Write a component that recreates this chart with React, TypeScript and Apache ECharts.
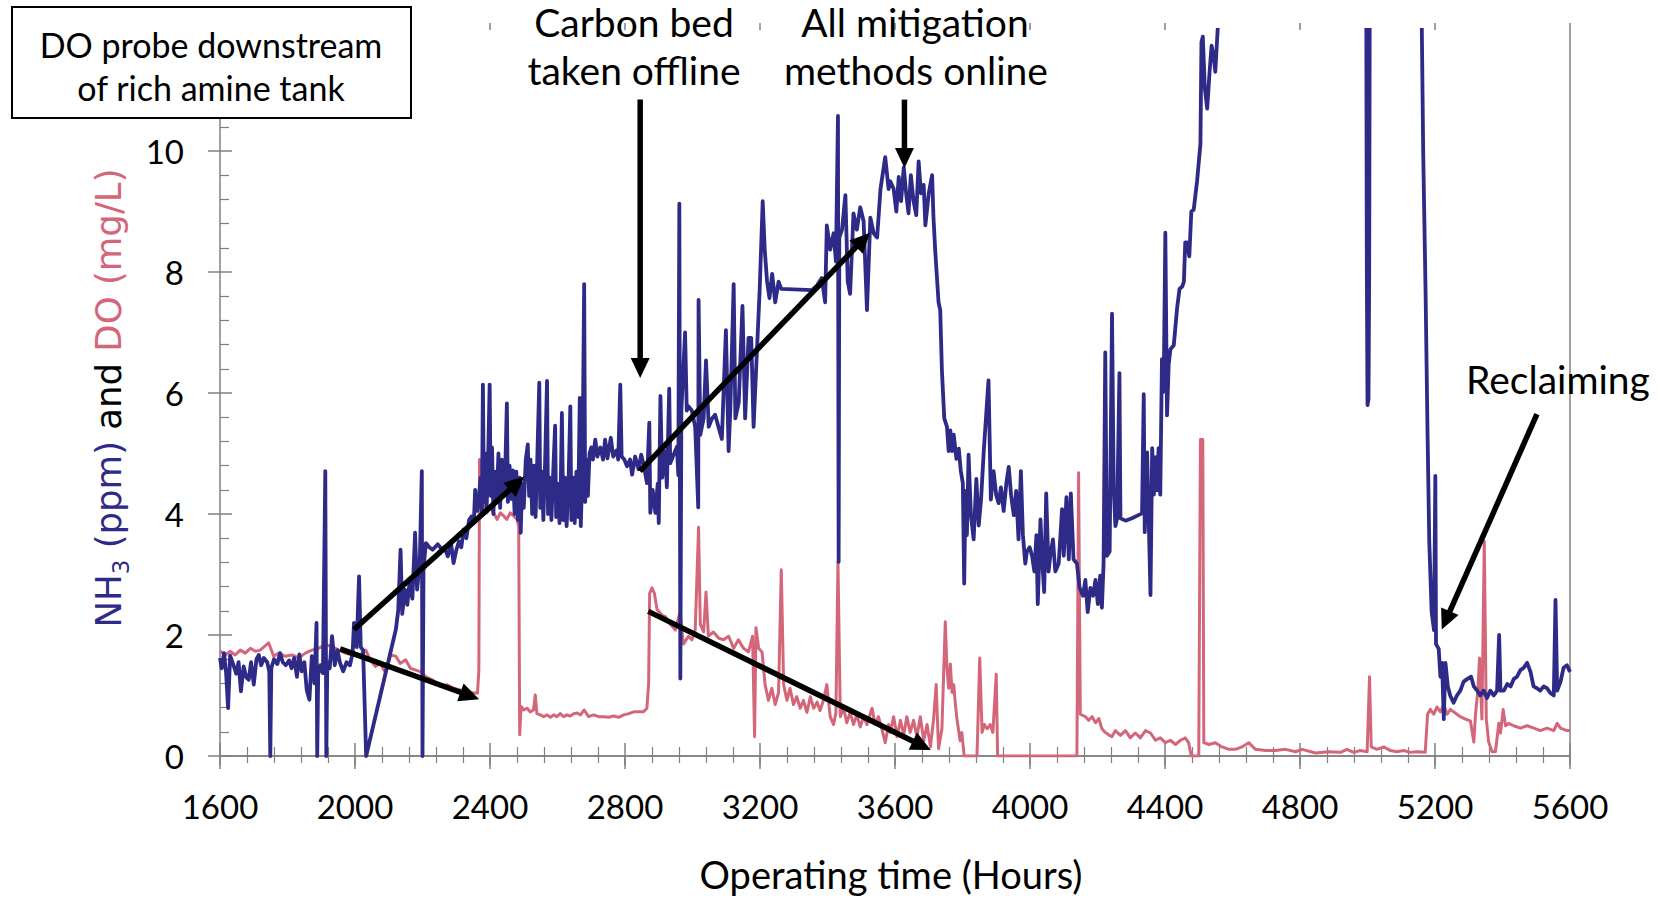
import React, { useEffect, useRef } from "react";
import * as echarts from "echarts";

// ---------- data (hours, value) ----------
const xRange = [1600, 5600];
const xStep = 400;
const yRange = [0, 12];
const yStep = 2;

const nh3Ppm: [number, number][] = [
  [1600,1.62],[1605,1.45],[1612,1.70],[1618,1.38],[1624,0.79],[1630,1.66],[1640,1.50],[1648,1.36],[1655,1.55],[1662,1.07],
  [1670,1.48],[1678,1.30],[1685,1.26],[1692,1.55],[1700,1.18],[1708,1.60],[1715,1.67],[1722,1.50],[1730,1.62],[1740,1.55],
  [1746,1.40],[1749,0],[1752,1.45],[1760,1.60],[1770,1.52],[1778,1.70],[1786,1.55],[1795,1.50],[1805,1.58],[1812,1.45],
  [1820,1.62],[1828,1.31],[1835,1.68],[1842,1.40],[1850,1.55],[1857,1.09],[1865,0.93],[1872,1.65],[1880,1.20],[1886,2.20],
  [1888,0],[1891,1.35],[1898,1.50],[1905,1.37],[1912,4.71],[1915,0],[1918,1.55],[1925,1.45],[1932,1.98],[1940,1.50],
  [1948,1.75],[1955,1.55],[1965,1.40],[1975,1.55],[1985,1.50],[1993,1.70],[1997,2.20],[2005,1.80],[2012,2.97],[2017,1.80],
  [2024,1.75],[2033,0],[2121,2.09],[2128,2.40],[2135,3.41],[2140,2.35],[2148,2.75],[2155,2.50],[2162,2.90],[2170,2.60],
  [2178,3.69],[2184,2.75],[2192,3.20],[2198,4.71],[2200,0],[2203,3.10],[2210,3.52],[2220,3.45],[2230,3.41],[2245,3.50],
  [2260,3.40],[2265,3.45],[2275,3.30],[2285,3.50],[2292,3.19],[2300,3.40],[2308,3.55],[2315,3.45],[2322,3.74],[2330,3.60],
  [2338,3.90],[2345,3.96],[2352,3.85],[2356,4.40],[2362,4.05],[2366,4.18],[2372,4.60],[2376,4.00],[2379,6.14],[2382,4.20],
  [2386,5.00],[2390,4.10],[2394,4.80],[2399,6.14],[2402,4.30],[2406,5.10],[2410,4.00],[2415,4.70],[2420,4.20],[2425,5.00],
  [2430,4.10],[2435,4.90],[2440,4.30],[2445,4.70],[2450,5.83],[2453,4.20],[2458,4.80],[2463,4.25],[2468,4.72],[2473,4.00],
  [2478,4.70],[2483,3.90],[2488,4.60],[2491,3.69],[2495,4.50],[2500,4.10],[2506,4.90],[2512,5.15],[2516,4.30],[2520,4.90],
  [2525,4.00],[2530,4.80],[2535,3.95],[2540,4.90],[2546,6.17],[2549,4.10],[2554,4.70],[2558,3.90],[2563,4.80],[2569,6.20],
  [2572,4.00],[2577,4.60],[2582,3.90],[2588,4.80],[2593,5.46],[2596,3.95],[2600,4.50],[2606,3.85],[2610,4.60],[2613,5.67],
  [2617,3.90],[2622,4.60],[2627,3.80],[2633,4.60],[2638,5.78],[2641,3.90],[2646,4.60],[2651,3.85],[2656,4.70],[2661,3.95],
  [2666,5.92],[2669,3.80],[2674,4.80],[2679,7.80],[2682,4.20],[2686,4.90],[2690,4.30],[2695,5.00],[2700,5.10],[2705,4.90],
  [2712,5.23],[2718,4.95],[2727,5.10],[2735,4.90],[2741,5.23],[2748,4.92],[2758,5.26],[2765,4.95],[2775,5.05],[2780,4.90],
  [2786,6.14],[2790,4.95],[2798,4.90],[2806,4.79],[2815,4.90],[2821,4.65],[2830,4.95],[2840,4.74],[2848,4.98],[2856,4.80],
  [2865,4.51],[2872,5.51],[2875,4.02],[2882,4.40],[2890,4.02],[2897,4.50],[2900,3.85],[2905,5.95],[2910,4.60],[2919,5.04],
  [2924,4.44],[2931,6.07],[2934,4.84],[2944,4.98],[2954,5.11],[2958,4.64],[2961,9.13],[2964,1.28],[2967,5.71],[2978,7.00],
  [2983,5.71],[2988,5.78],[2998,5.71],[3008,5.44],[3017,4.11],[3018,7.54],[3023,5.31],[3033,5.58],[3040,6.54],[3048,5.44],
  [3058,5.58],[3067,5.64],[3077,5.44],[3087,5.24],[3099,7.04],[3107,5.04],[3112,5.71],[3122,7.80],[3127,5.58],[3137,5.84],
  [3148,7.44],[3156,5.58],[3166,6.91],[3174,6.91],[3181,5.44],[3191,6.71],[3199,7.70],[3208,9.17],[3214,8.37],[3221,7.84],
  [3228,7.57],[3236,7.97],[3245,7.50],[3255,7.84],[3263,7.72],[3354,7.70],[3369,7.78],[3383,7.90],[3393,7.50],[3398,8.77],
  [3408,8.37],[3418,8.64],[3425,8.17],[3431,10.58],[3433,3.21],[3435,8.57],[3443,8.70],[3453,9.27],[3460,7.84],[3467,7.64],
  [3477,8.97],[3487,8.70],[3497,9.07],[3507,8.84],[3517,7.37],[3527,8.90],[3537,8.64],[3547,8.57],[3557,9.37],[3571,9.90],
  [3581,9.37],[3586,9.50],[3596,9.37],[3604,9.00],[3611,9.57],[3618,9.17],[3626,9.73],[3633,9.30],[3640,8.97],[3647,9.60],
  [3655,9.17],[3663,8.94],[3670,9.83],[3677,9.30],[3685,9.44],[3690,8.77],[3700,9.30],[3710,9.60],[3714,8.90],[3719,8.37],
  [3729,7.50],[3734,7.37],[3739,6.37],[3746,5.58],[3754,5.44],[3759,5.04],[3764,5.38],[3769,5.04],[3774,5.31],[3782,4.91],
  [3789,5.08],[3795,4.71],[3801,4.51],[3805,2.85],[3809,4.38],[3813,3.65],[3818,4.98],[3825,3.98],[3833,3.58],[3841,4.58],
  [3848,3.81],[3855,4.24],[3863,5.04],[3877,6.21],[3884,4.24],[3892,4.71],[3900,4.31],[3907,4.18],[3914,4.44],[3922,4.05],
  [3930,4.51],[3937,4.78],[3944,4.31],[3952,3.98],[3959,4.38],[3966,3.58],[3973,4.71],[3979,3.65],[3986,3.18],[3991,3.38],
  [3999,3.45],[4006,3.31],[4013,3.05],[4019,3.65],[4023,2.51],[4031,3.91],[4036,3.25],[4042,2.71],[4048,4.34],[4055,3.05],
  [4060,3.31],[4068,3.58],[4075,3.05],[4085,3.18],[4095,4.08],[4100,3.31],[4108,4.28],[4115,3.25],[4121,4.34],[4129,3.25],
  [4139,3.18],[4147,2.78],[4157,2.65],[4164,2.91],[4171,2.38],[4179,2.78],[4187,2.65],[4194,2.91],[4201,2.51],[4208,2.98],
  [4213,2.45],[4218,3.18],[4223,6.67],[4228,3.31],[4236,3.38],[4243,7.31],[4248,4.44],[4253,3.80],[4258,3.93],[4265,6.33],
  [4268,3.93],[4283,3.89],[4302,3.93],[4332,4.01],[4337,5.98],[4340,3.70],[4347,5.02],[4352,3.86],[4357,2.66],[4362,5.09],
  [4367,4.32],[4372,4.94],[4377,4.39],[4381,5.09],[4386,4.32],[4391,6.56],[4396,6.02],[4401,8.65],[4406,5.63],[4411,6.48],
  [4416,6.72],[4426,6.79],[4436,7.41],[4443,7.72],[4451,7.76],[4456,7.84],[4460,8.49],[4465,8.49],[4472,8.26],[4478,9.00],
  [4485,9.03],[4495,9.50],[4505,10.12],[4508,11.80],[4512,11.89],[4518,11.04],[4525,10.70],[4532,11.30],[4538,11.74],[4544,11.58],
  [4549,11.31],[4557,12.10],[4565,13.50],[4996,13.50],[4998,8.00],[5000,5.80],[5003,5.90],[5005,8.00],[5007,13.50],[5158,13.50],
  [5161,12.00],[5165,10.00],[5168,9.00],[5172,7.70],[5175,6.50],[5178,5.30],[5183,3.55],[5190,2.39],[5197,2.08],[5201,4.63],
  [5203,1.85],[5211,1.77],[5216,1.31],[5221,1.54],[5226,0.61],[5231,1.54],[5238,1.15],[5245,1.00],[5255,0.88],[5265,1.00],
  [5275,1.08],[5285,1.23],[5295,1.27],[5307,1.31],[5315,1.15],[5325,1.08],[5334,1.00],[5344,1.08],[5354,0.96],[5364,1.08],
  [5374,1.00],[5384,1.08],[5390,2.00],[5394,1.08],[5404,1.08],[5414,1.19],[5424,1.15],[5433,1.27],[5443,1.31],[5453,1.42],
  [5463,1.46],[5473,1.54],[5483,1.39],[5492,1.15],[5502,1.12],[5512,1.08],[5522,1.15],[5532,1.12],[5542,1.04],[5552,1.00],
  [5557,2.58],[5562,1.08],[5572,1.23],[5581,1.46],[5591,1.50],[5600,1.39]
];

const doMgL: [number, number][] = [
  [1601,1.73],[1616,1.67],[1630,1.73],[1645,1.67],[1660,1.75],[1675,1.70],[1690,1.78],[1705,1.73],[1719,1.75],[1744,1.87],
  [1759,1.65],[1774,1.70],[1793,1.65],[1813,1.67],[1833,1.62],[1853,1.70],[1872,1.75],[1892,1.78],[1912,1.84],[1932,1.81],
  [1952,1.75],[1972,1.70],[1992,1.67],[2012,1.65],[2032,1.75],[2045,1.59],[2060,1.48],[2075,1.53],[2091,1.37],[2106,1.67],
  [2121,1.65],[2134,1.53],[2150,1.59],[2164,1.45],[2180,1.42],[2195,1.39],[2210,1.31],[2229,1.26],[2253,1.15],[2272,1.18],
  [2292,1.12],[2312,1.09],[2332,1.06],[2352,1.04],[2363,1.04],[2367,1.42],[2369,4.90],[2376,4.73],[2381,4.07],[2391,4.02],
  [2401,4.13],[2411,4.02],[2421,3.91],[2431,4.02],[2440,3.97],[2450,3.91],[2460,4.02],[2470,3.97],[2480,3.91],[2485,3.80],
  [2488,0.35],[2492,0.82],[2500,0.76],[2510,0.79],[2519,0.73],[2529,0.76],[2534,1.01],[2539,0.70],[2549,0.68],[2559,0.65],
  [2569,0.68],[2579,0.64],[2589,0.68],[2598,0.65],[2608,0.70],[2618,0.65],[2628,0.68],[2638,0.66],[2648,0.70],[2658,0.71],
  [2668,0.68],[2679,0.76],[2692,0.65],[2707,0.68],[2722,0.65],[2737,0.65],[2752,0.64],[2766,0.66],[2781,0.64],[2796,0.68],
  [2811,0.70],[2826,0.73],[2840,0.73],[2855,0.73],[2865,0.79],[2870,1.20],[2873,2.69],[2880,2.78],[2887,2.69],[2895,2.42],
  [2905,2.36],[2914,2.31],[2919,2.31],[2934,2.18],[2949,2.08],[2963,2.38],[2973,1.85],[2988,1.98],[2998,1.92],[3008,2.08],
  [3018,3.78],[3023,2.18],[3033,2.05],[3040,2.71],[3047,1.98],[3062,2.05],[3077,1.95],[3092,1.92],[3107,1.98],[3122,1.78],
  [3136,1.92],[3151,1.78],[3166,1.72],[3178,1.98],[3184,0.32],[3188,2.12],[3196,1.78],[3206,1.72],[3215,1.18],[3225,0.92],
  [3235,1.12],[3245,0.85],[3255,1.05],[3263,3.08],[3270,1.18],[3280,0.92],[3289,1.12],[3299,0.85],[3309,0.98],[3319,0.79],
  [3329,0.92],[3339,0.72],[3349,0.98],[3359,0.79],[3369,0.89],[3378,0.75],[3388,0.92],[3398,1.18],[3408,0.65],[3418,0.52],
  [3425,0.72],[3431,3.21],[3438,0.65],[3448,0.79],[3457,0.55],[3467,0.72],[3477,0.52],[3487,0.68],[3497,0.48],[3507,0.65],
  [3517,0.52],[3532,0.79],[3541,0.52],[3551,0.65],[3561,0.45],[3571,0.22],[3581,0.52],[3586,0.39],[3596,0.65],[3606,0.32],
  [3616,0.59],[3626,0.35],[3635,0.65],[3645,0.39],[3655,0.59],[3665,0.32],[3675,0.65],[3685,0.25],[3695,0.52],[3705,0.15],
  [3714,0.59],[3722,1.18],[3729,0.12],[3739,0.45],[3749,2.22],[3754,1.45],[3759,1.12],[3764,1.52],[3769,1.05],[3774,1.18],
  [3779,0.85],[3784,0.59],[3793,0.25],[3798,0.39],[3805,0],[3843,0],[3851,1.62],[3858,0.39],[3865,0.52],[3873,0.45],
  [3882,0.52],[3890,0.39],[3900,1.35],[3904,0],[4139,0],[4144,4.68],[4149,0.69],[4164,0.65],[4174,0.59],[4184,0.65],
  [4194,0.55],[4204,0.62],[4213,0.45],[4223,0.39],[4233,0.35],[4243,0.32],[4253,0.42],[4268,0.34],[4283,0.42],[4297,0.30],
  [4312,0.38],[4327,0.30],[4342,0.42],[4357,0.38],[4372,0.26],[4386,0.30],[4401,0.22],[4416,0.26],[4431,0.19],[4446,0.26],
  [4460,0.30],[4470,0.22],[4478,0],[4500,0],[4505,5.23],[4512,5.23],[4515,0.22],[4530,0.19],[4549,0.22],[4569,0.15],
  [4589,0.11],[4609,0.11],[4628,0.15],[4648,0.22],[4668,0.11],[4698,0.09],[4727,0.09],[4757,0.11],[4787,0.07],[4806,0.11],
  [4846,0.05],[4885,0.07],[4920,0.06],[4939,0.11],[4959,0.06],[4979,0.09],[4999,0.07],[5006,1.31],[5011,0.15],[5028,0.11],
  [5048,0.15],[5068,0.09],[5087,0.07],[5107,0.09],[5127,0.06],[5147,0.07],[5171,0.06],[5178,0.69],[5186,0.77],[5196,0.69],
  [5206,0.81],[5216,0.73],[5226,0.85],[5236,0.69],[5246,0.77],[5255,0.73],[5265,0.69],[5275,0.65],[5290,0.61],[5305,0.58],
  [5315,0.23],[5320,0.69],[5327,1.08],[5332,1.62],[5339,0.61],[5346,3.55],[5352,0.61],[5359,0.23],[5369,0.07],[5379,0.07],
  [5389,0.54],[5394,0.38],[5402,0.77],[5409,0.50],[5418,0.54],[5433,0.50],[5453,0.46],[5473,0.50],[5493,0.46],[5512,0.42],
  [5532,0.46],[5552,0.42],[5562,0.54],[5572,0.46],[5591,0.42],[5600,0.42]
];

// annotation arrows: [fromHour, fromValue, toHour, toValue]
const arrowSpecs: [number, number, number, number][] = [
  [2845, 10.85, 2845, 6.25],
  [3628, 10.85, 3628, 9.72],
  [1997, 2.09, 2502, 4.62],
  [1956, 1.77, 2368, 0.94],
  [2844, 4.71, 3526, 8.65],
  [2869, 2.39, 3706, 0.10],
  [5502, 5.65, 5220, 2.09],
];

const NAVY = "#2E2A87";
const PINK = "#D4667A";
const AXIS = "#808080";
const FONT = "Lato, 'Open Sans', sans-serif";
const TITLE_FONT = "'DejaVu Sans', sans-serif";

export default function App() {
  const ref = useRef<HTMLDivElement>(null);
  useEffect(() => {
    const chart = echarts.init(ref.current!, null, { renderer: "svg" });
    const axisLine = { show: true, lineStyle: { color: AXIS, width: 1.5 } };
    const baseX = { type: "value", min: xRange[0], max: xRange[1], interval: xStep, splitLine: { show: false }, gridIndex: 0 };
    const baseY = { type: "value", min: yRange[0], max: yRange[1], interval: yStep, splitLine: { show: false }, gridIndex: 0 };
    const option: any = {
      animation: false,
      backgroundColor: "#ffffff",
      textStyle: { fontFamily: FONT },
      grid: { left: 220, top: 30, width: 1350, height: 726, containLabel: false },
      xAxis: [
        {
          ...baseX, position: "bottom", axisLine,
          axisTick: { show: true, inside: true, length: 13, lineStyle: { color: AXIS, width: 1.5 } },
          minorTick: { show: true, splitNumber: 5, length: 9, lineStyle: { color: AXIS, width: 1.2 } },
          axisLabel: { show: true, color: "#000", fontFamily: FONT, fontSize: 33, margin: 33, formatter: (v: number) => String(v) },
        },
        {
          ...baseX, position: "bottom", axisLine: { show: false },
          axisTick: { show: true, inside: false, length: 13, lineStyle: { color: AXIS, width: 1.5 } },
          axisLabel: { show: false },
        },
        {
          ...baseX, position: "top", axisLine,
          axisTick: { show: true, inside: true, length: 9, lineStyle: { color: AXIS, width: 1.5 } },
          minorTick: { show: true, splitNumber: 5, length: 7, lineStyle: { color: AXIS, width: 1.2 } },
          axisLabel: { show: false },
        },
        {
          ...baseX, position: "top", axisLine: { show: false },
          axisTick: { show: true, inside: false, length: 7, lineStyle: { color: AXIS, width: 1.5 } },
          axisLabel: { show: false },
        },
      ],
      yAxis: [
        {
          ...baseY, position: "left", axisLine,
          axisTick: { show: true, inside: true, length: 12, lineStyle: { color: AXIS, width: 1.5 } },
          minorTick: { show: true, splitNumber: 5, length: 9, lineStyle: { color: AXIS, width: 1.2 } },
          axisLabel: {
            show: true, color: "#000", fontFamily: FONT, fontSize: 33, margin: 36,
            formatter: (v: number) => (v === yRange[1] ? "" : String(v)),
          },
        },
        {
          ...baseY, position: "left", axisLine: { show: false },
          axisTick: { show: true, inside: false, length: 12, lineStyle: { color: AXIS, width: 1.5 } },
          axisLabel: { show: false },
        },
        {
          ...baseY, position: "right", axisLine,
          axisTick: { show: false }, axisLabel: { show: false },
        },
      ],
      series: [
        {
          name: "DO (mg/L)", type: "line", data: doMgL, xAxisIndex: 0, yAxisIndex: 0,
          showSymbol: false, symbol: "none", z: 2, clip: true,
          lineStyle: { color: PINK, width: 3, join: "round" }, itemStyle: { color: PINK },
        },
        {
          name: "NH3 (ppm)", type: "line", data: nh3Ppm, xAxisIndex: 0, yAxisIndex: 0,
          showSymbol: false, symbol: "none", z: 3, clip: true,
          lineStyle: { color: NAVY, width: 3.8, join: "round" }, itemStyle: { color: NAVY },
        },
      ],
    };
    chart.setOption(option);

    const graphics: any[] = [];
    arrowSpecs.forEach(([x1, y1, x2, y2]) => {
      const p1 = chart.convertToPixel({ xAxisIndex: 0, yAxisIndex: 0 }, [x1, y1]) as number[];
      const p2 = chart.convertToPixel({ xAxisIndex: 0, yAxisIndex: 0 }, [x2, y2]) as number[];
      const dx = p2[0] - p1[0], dy = p2[1] - p1[1];
      const len = Math.sqrt(dx * dx + dy * dy);
      const ux = dx / len, uy = dy / len;
      const headLen = 20, headW = 19;
      const bx = p2[0] - ux * headLen, by = p2[1] - uy * headLen;
      const px = -uy, py = ux;
      graphics.push({
        type: "line", z: 50, silent: true,
        shape: { x1: p1[0], y1: p1[1], x2: bx + ux * 2, y2: by + uy * 2 },
        style: { stroke: "#000", lineWidth: 5.5 },
      });
      graphics.push({
        type: "polygon", z: 50, silent: true,
        shape: { points: [[p2[0], p2[1]], [bx + px * headW / 2, by + py * headW / 2], [bx - px * headW / 2, by - py * headW / 2]] },
        style: { fill: "#000" },
      });
    });

    const txt = (text: string, x: number, y: number, size: number) => ({
      type: "text", x, y, z: 120, silent: true,
      style: { text, fill: "#000", fontSize: size, fontFamily: FONT, align: "center", verticalAlign: "middle", textAlign: "center", textVerticalAlign: "middle" },
    });

    graphics.push({
      type: "rect", z: 110, silent: true,
      shape: { x: 12, y: 7, width: 399, height: 111 },
      style: { fill: "#fff", stroke: "#000", lineWidth: 2 },
    });
    graphics.push(txt("DO probe downstream", 211, 44, 34));
    graphics.push(txt("of rich amine tank", 211, 87, 34));
    graphics.push(txt("Carbon bed", 634, 22, 39));
    graphics.push(txt("taken offline", 634, 70, 39));
    graphics.push(txt("All mitigation", 915, 22, 39));
    graphics.push(txt("methods online", 916, 70, 39));
    graphics.push(txt("Reclaiming", 1558, 379, 39));
    graphics.push(txt("Operating time (Hours)", 891, 874, 38));
    graphics.push({
      type: "text", x: 108, y: 398, rotation: Math.PI / 2, z: 120, silent: true,
      style: {
        text: "{n|NH}{s|3}{n| (ppm)}{k| and }{d|DO (mg/L)}",
        align: "center", verticalAlign: "middle", textAlign: "center", textVerticalAlign: "middle",
        rich: {
          n: { fill: NAVY, fontSize: 35.5, fontFamily: TITLE_FONT, lineHeight: 48, verticalAlign: "middle" },
          s: { fill: NAVY, fontSize: 23, fontFamily: TITLE_FONT, lineHeight: 26, verticalAlign: "bottom" },
          k: { fill: "#000", fontSize: 35.5, fontFamily: TITLE_FONT, lineHeight: 48, verticalAlign: "middle" },
          d: { fill: PINK, fontSize: 35.5, fontFamily: TITLE_FONT, lineHeight: 48, verticalAlign: "middle" },
        },
      },
    });

    chart.setOption({ graphic: graphics });
    return () => chart.dispose();
  }, []);
  return <div ref={ref} style={{ position: "fixed", left: 0, top: 0, width: 1660, height: 900, background: "#fff" }} />;
}
